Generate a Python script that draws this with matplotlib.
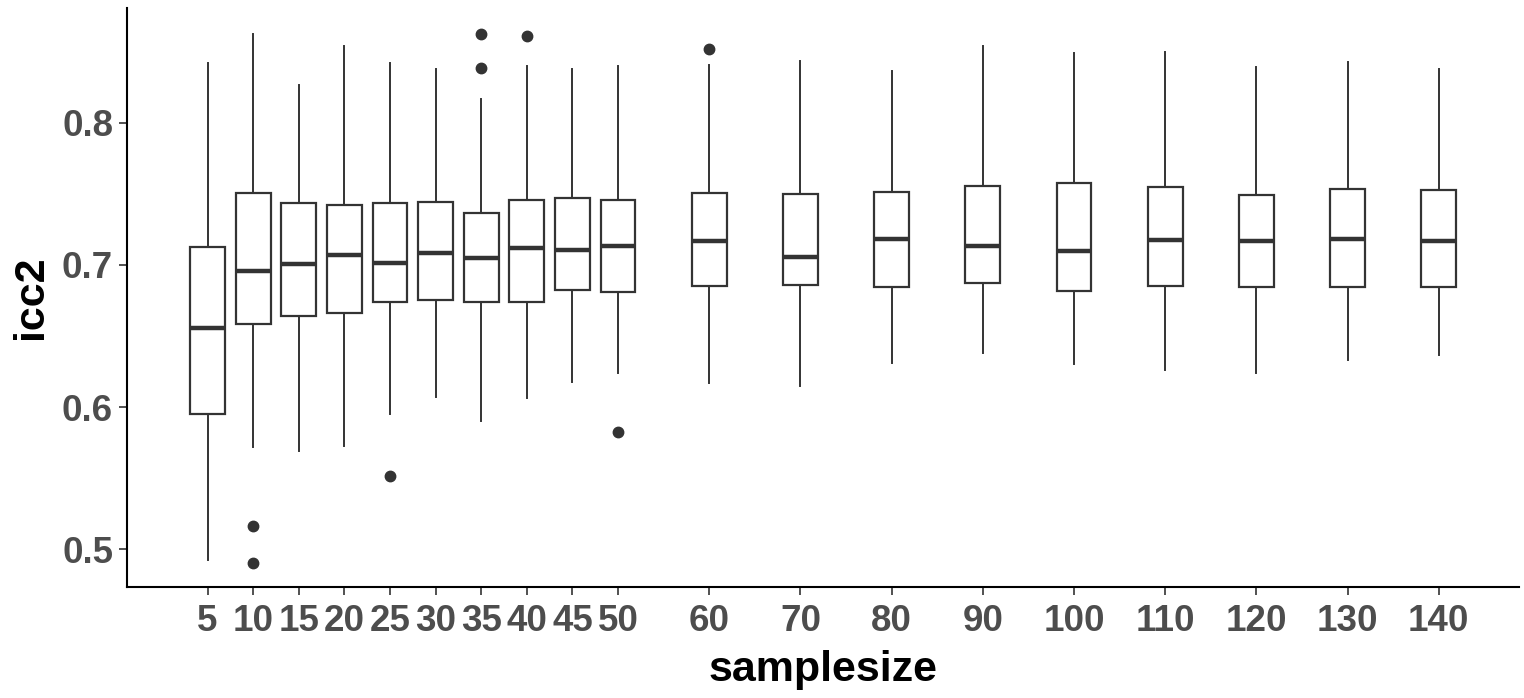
import numpy as np
import matplotlib.pyplot as plt

samplesize = [5, 10, 15, 20, 25, 30, 35, 40, 45, 50, 60, 70, 80, 90, 100, 110, 120, 130, 140]
whislo = [0.4927, 0.5720, 0.5690, 0.5725, 0.5949, 0.6070, 0.5899, 0.6061, 0.6178, 0.6237,
          0.6169, 0.6146, 0.6308, 0.6383, 0.6303, 0.6263, 0.6242, 0.6333, 0.6366]
q1 = [0.5949, 0.6587, 0.6641, 0.6660, 0.6739, 0.6751, 0.6739, 0.6742, 0.6822, 0.6810,
      0.6852, 0.6859, 0.6847, 0.6869, 0.6819, 0.6854, 0.6847, 0.6847, 0.6847]
med = [0.6559, 0.6958, 0.7009, 0.7068, 0.7016, 0.7082, 0.7049, 0.7120, 0.7104, 0.7134,
       0.7164, 0.7054, 0.7178, 0.7132, 0.7099, 0.7171, 0.7167, 0.7181, 0.7169]
q3 = [0.7122, 0.7502, 0.7432, 0.7420, 0.7432, 0.7439, 0.7364, 0.7456, 0.7470, 0.7458,
      0.7505, 0.7500, 0.7509, 0.7554, 0.7575, 0.7549, 0.7493, 0.7530, 0.7523]
whishi = [0.8420, 0.8625, 0.8261, 0.8537, 0.8420, 0.8373, 0.8164, 0.8397, 0.8378, 0.8399,
          0.8408, 0.8432, 0.8362, 0.8540, 0.8488, 0.8495, 0.8392, 0.8427, 0.8373]
outliers = {10: [0.5164, 0.4904], 25: [0.5514], 35: [0.8625, 0.8385],
            40: [0.8606], 50: [0.5824], 60: [0.8519]}

stats = []
for i, n in enumerate(samplesize):
    stats.append({"whislo": whislo[i], "q1": q1[i], "med": med[i], "q3": q3[i],
                  "whishi": whishi[i], "fliers": outliers.get(n, [])})

plt.rcParams["font.family"] = ["Liberation Sans", "DejaVu Sans"]
plt.rcParams["font.weight"] = "bold"

fig = plt.figure(figsize=(15.24, 6.98), dpi=100)
ax = fig.add_axes([0.0833, 0.159, 0.9137, 0.8295])

dark = "#333333"
ax.bxp(stats, positions=samplesize, widths=3.8, showcaps=False, patch_artist=True,
       boxprops=dict(facecolor="white", edgecolor=dark, linewidth=1.6),
       medianprops=dict(color=dark, linewidth=3.2, solid_capstyle="butt"),
       whiskerprops=dict(color=dark, linewidth=1.4),
       flierprops=dict(marker="o", markerfacecolor=dark, markeredgecolor=dark, markersize=7.5))

ax.set_xlim(-3.84, 148.84)
ax.set_ylim(0.4735, 0.8805)
ax.set_xticks(samplesize)
ax.set_xticklabels([str(n) for n in samplesize])
ax.set_yticks([0.5, 0.6, 0.7, 0.8])
ax.set_yticklabels(["0.5", "0.6", "0.7", "0.8"])

for s in ["top", "right"]:
    ax.spines[s].set_visible(False)
for s in ["left", "bottom"]:
    ax.spines[s].set_linewidth(1.5)
    ax.spines[s].set_color("black")

ax.tick_params(axis="both", length=6, width=1.2, color=dark, labelcolor="#4D4D4D",
               labelsize=26.5, pad=4)
ax.tick_params(axis="x", pad=6)
ax.set_xlabel("samplesize", fontsize=31, fontweight="bold", labelpad=8)
ax.set_ylabel("icc2", fontsize=31, fontweight="bold", labelpad=8)

fig.savefig("out.png", dpi=100)
